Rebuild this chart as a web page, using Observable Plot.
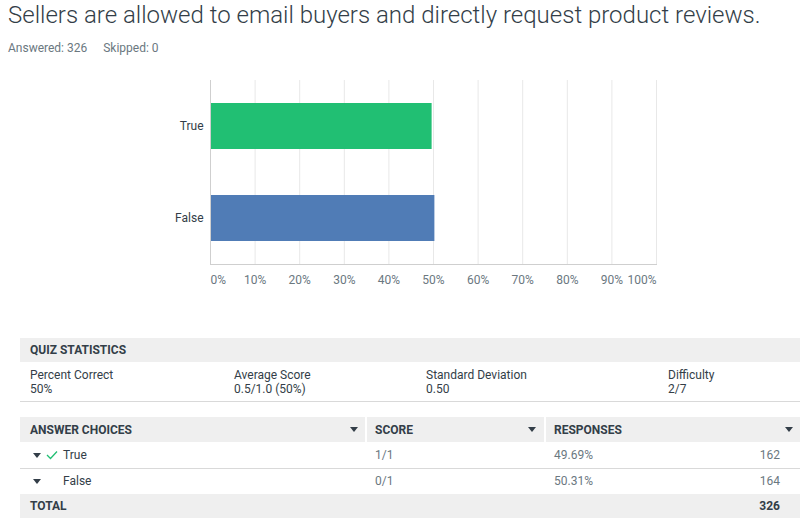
<!DOCTYPE html>
<html><head><meta charset="utf-8">
<script src="https://cdn.jsdelivr.net/npm/d3@7"></script>
<script src="https://cdn.jsdelivr.net/npm/@observablehq/plot@0.6"></script>
<style>
body{margin:0;background:#fff;font-family:Roboto,"Open Sans",sans-serif;color:#333e48;width:800px;height:520px;overflow:hidden;position:relative}
#title{position:absolute;left:8px;top:1px;font-size:24px;font-weight:300;color:#333e48;white-space:nowrap}
#sub{position:absolute;left:8px;top:41px;font-size:12px;color:#6b787f}
#sub span{margin-right:16px}
#chart{position:absolute;left:0;top:70px}
.band{position:absolute;left:20px;width:780px;background:#efefef}
.t{position:absolute;font-size:12px;white-space:nowrap;color:#333e48}
.h{font-weight:700;color:#333e48;font-size:12px}
.g{color:#6b787f}
.line{position:absolute;left:20px;width:780px;height:1px;background:#d9d9d9}
.tri{position:absolute;width:0;height:0;border-left:4px solid transparent;border-right:4px solid transparent;border-top:5px solid #333e48}
</style></head>
<body>
<div id="title"></div>
<div id="sub"></div>
<div id="chart"></div>
<div id="tables"></div>
<script>
const titleText = "Sellers are allowed to email buyers and directly request product reviews.";
const answered = 326, skipped = 0;
const choices = ["True", "False"];
const percents = [49.69, 50.31];
const counts = [162, 164];
const scores = ["1/1", "0/1"];
const correct = [true, false];
const colors = ["#21bf73", "#507cb6"];
const xTicks = [0,10,20,30,40,50,60,70,80,90,100];
const statLabels = ["Percent Correct", "Average Score", "Standard Deviation", "Difficulty"];
const statValues = ["50%", "0.5/1.0 (50%)", "0.50", "2/7"];
const colHeaders = ["ANSWER CHOICES", "SCORE", "RESPONSES"];

document.getElementById("title").textContent = titleText;
document.getElementById("sub").innerHTML = `<span>Answered: ${answered}</span><span>Skipped: ${skipped}</span>`;

const data = choices.map((c,i)=>({choice:c, pct:percents[i], color:colors[i]}));
const midTicks = xTicks.slice(1,-1);
const tickOpts = {frameAnchor: "bottom", dy: 19, fill: "#6b787f", fontSize: 12};

const chart = Plot.plot({
  width: 800, height: 225,
  marginLeft: 210, marginRight: 144, marginTop: 10, marginBottom: 31,
  style: {fontFamily: "Roboto, sans-serif", fontSize: "12px", color: "#333e48", overflow: "visible"},
  x: {domain: [0,100], axis: null},
  y: {domain: choices, paddingInner: 0.5, paddingOuter: 0.24, axis: null},
  marks: [
    Plot.ruleX(xTicks.slice(1), {stroke: "#e8e8e8", strokeOpacity: 1}),
    Plot.barX(data, {y: "choice", x: "pct", fill: "color"}),
    Plot.ruleX([0], {stroke: "#cfcfcf", strokeOpacity: 1}),
    Plot.frame({anchor: "bottom", stroke: "#cfcfcf"}),
    Plot.text(choices, {y: d=>d, x: 0, text: d=>d, textAnchor: "end", dx: -7, fill: "#333e48", fontSize: 12}),
    Plot.text(midTicks, {x: d=>d, text: d=>d+"%", ...tickOpts}),
    Plot.text([xTicks[0]], {x: d=>d, text: d=>d+"%", textAnchor: "start", ...tickOpts}),
    Plot.text([xTicks[xTicks.length-1]], {x: d=>d, text: d=>d+"%", textAnchor: "end", ...tickOpts})
  ]
});
document.getElementById("chart").append(chart);

// tables
const T = document.getElementById("tables");
function el(html){T.insertAdjacentHTML("beforeend", html);}
el(`<div class="band" style="top:338px;height:24px"></div>`);
el(`<div class="t h" style="left:30px;top:343px">QUIZ STATISTICS</div>`);
const statX = [30, 234, 426, 668];
statLabels.forEach((s,i)=>{
  el(`<div class="t" style="left:${statX[i]}px;top:368px">${s}</div>`);
  el(`<div class="t" style="left:${statX[i]}px;top:382px">${statValues[i]}</div>`);
});
el(`<div class="line" style="top:401px"></div>`);

el(`<div class="band" style="top:417px;height:25px"></div>`);
el(`<div style="position:absolute;left:365px;top:417px;width:2px;height:25px;background:#fff"></div>`);
el(`<div style="position:absolute;left:544px;top:417px;width:2px;height:25px;background:#fff"></div>`);
const colX = [30, 375, 554];
const triX = [350, 528, 785];
colHeaders.forEach((h,i)=>{
  el(`<div class="t h" style="left:${colX[i]}px;top:423px">${h}</div>`);
  el(`<div class="tri" style="left:${triX[i]}px;top:427px"></div>`);
});
choices.forEach((c,i)=>{
  const top = 442 + i*26;
  el(`<div class="tri" style="left:33px;top:${top+11}px"></div>`);
  if (correct[i]) el(`<svg style="position:absolute;left:46px;top:${top+8}px" width="12" height="10"><path d="M1 5 L4.5 8.5 L11 1.5" fill="none" stroke="#21bf73" stroke-width="1.3"/></svg>`);
  el(`<div class="t" style="left:63px;top:${top+6}px">${c}</div>`);
  el(`<div class="t g" style="left:375px;top:${top+6}px">${scores[i]}</div>`);
  el(`<div class="t g" style="left:554px;top:${top+6}px">${percents[i].toFixed(2)}%</div>`);
  el(`<div class="t g" style="right:20px;top:${top+6}px">${counts[i]}</div>`);
  if (i===0) el(`<div class="line" style="top:${top+26}px"></div>`);
});
el(`<div class="band" style="top:494px;height:24px"></div>`);
el(`<div class="t h" style="left:30px;top:499px">TOTAL</div>`);
el(`<div class="t h" style="right:20px;top:499px">${d3.sum(counts)}</div>`);
</script>
</body></html>
